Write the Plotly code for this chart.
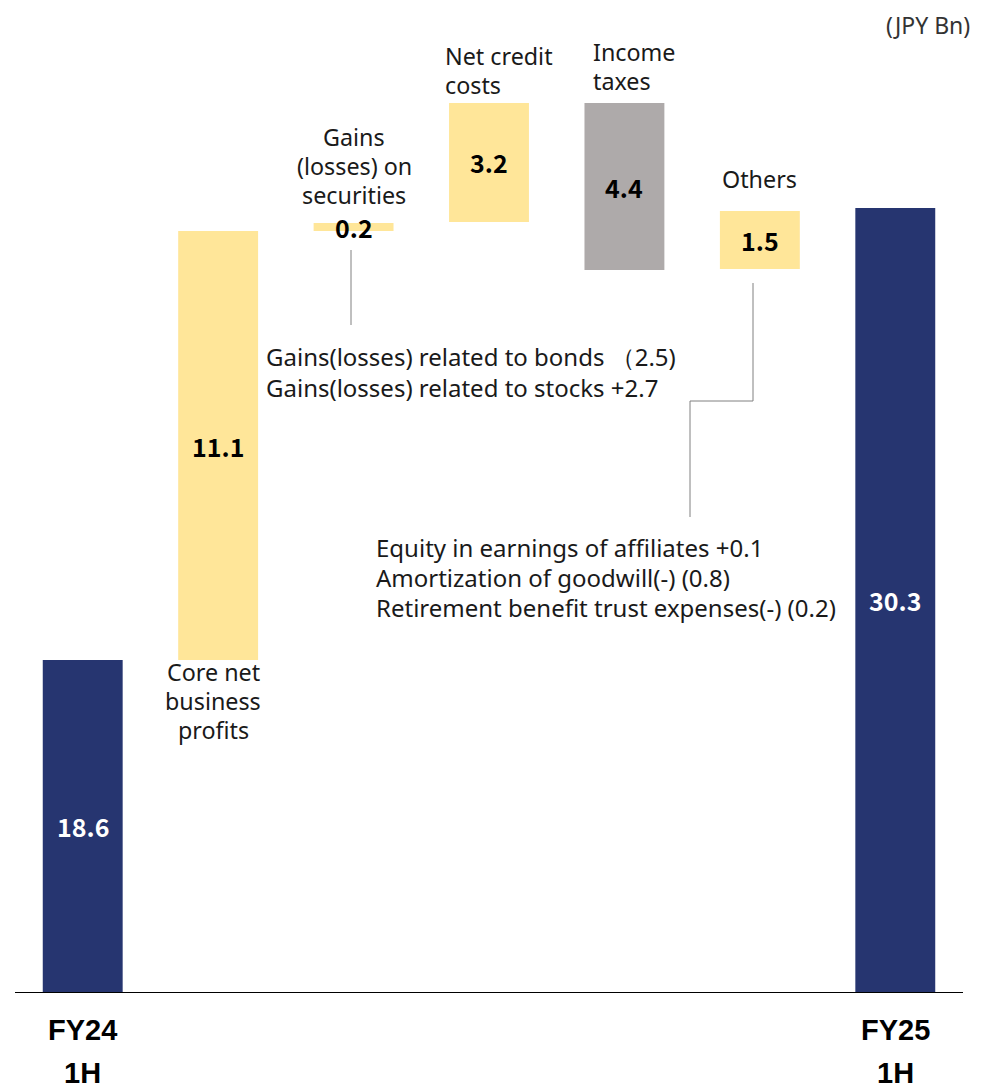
import plotly.graph_objects as go

# ---------------- data ----------------
categories = ["FY24 1H", "Core net business profits", "Gains (losses) on securities",
              "Net credit costs", "Income taxes", "Others", "FY25 1H"]
value_labels = ["18.6", "11.1", "0.2", "3.2", "4.4", "1.5", "30.3"]
# drawn bar extents (chart units, as drawn in the picture; not strictly to scale)
bar_bottom = [0.0, 12.83, 29.41, 29.76, 27.90, 27.94, 0.0]
bar_top = [12.83, 29.41, 29.72, 34.36, 34.36, 30.18, 30.3]
bar_kind = ["total", "up", "up", "up", "down", "up", "total"]

cat_name_lines = [["Core net", "business", "profits"],
                  ["Gains", "(losses) on", "securities"],
                  ["Net credit", "costs"],
                  ["Income", "taxes"],
                  ["Others"]]
bonds_note = ["Gains(losses) related to bonds （2.5)",
              "Gains(losses) related to stocks +2.7"]
others_note = ["Equity in earnings of affiliates +0.1",
               "Amortization of goodwill(-) (0.8)",
               "Retirement benefit trust expenses(-) (0.2)"]
x_labels = [("FY24", "1H"), ("FY25", "1H")]
unit_label = "(JPY Bn)"

# ---------------- style ----------------
NAVY = "#263570"
YELLOW = "#FFE699"
GRAY = "#AEAAAA"
TXT = "#1a1a1a"
FONT = "Noto Sans CJK JP"
LFONT = "Noto Sans"
colors = {"total": NAVY, "up": YELLOW, "down": GRAY}

OFF = 8  # page body margin
W, H = 982 - OFF, 1089 - OFF
ML, MR, MT, MB = 15 - OFF, 19, 0, 97
PW, PH = W - ML - MR, H - MT - MB
YMAX = PH / 25.875
XMIN, XMAX = -0.5, 6.5


def xpx(p):
    return XMIN + (p - OFF - ML) / PW * (XMAX - XMIN)


def ypx(p):
    return (MT + PH - (p - OFF)) / PH * YMAX


def xp(p):
    return (p - OFF - ML) / PW


def yp(p):
    return (MT + PH - (p - OFF)) / PH


xs = list(range(len(categories)))
fig = go.Figure()
fig.add_trace(go.Bar(
    x=xs,
    y=[t - b for t, b in zip(bar_top, bar_bottom)],
    base=bar_bottom,
    width=0.59,
    marker=dict(color=[colors[k] for k in bar_kind], line=dict(width=0)),
    hoverinfo="skip",
))

ann = []
# value labels
for i, lab in enumerate(value_labels):
    ann.append(dict(x=i, y=(bar_bottom[i] + bar_top[i]) / 2, text=f"<b>{lab}</b>",
                    showarrow=False, xanchor="center", yanchor="middle",
                    font=dict(family=FONT, size=25,
                              color="white" if bar_kind[i] == "total" else "#000")))


def text_lines(lines, x, y0, dy, xanchor, size):
    for k, t in enumerate(lines):
        ann.append(dict(x=xp(x), y=yp(y0 + dy * k), xref="paper", yref="paper", text=t,
                        showarrow=False, xanchor=xanchor, yanchor="middle",
                        font=dict(family=LFONT, size=size, color=TXT)))


# category names: (x px, first line y px, anchor)
name_pos = [(213, 672, "center"), (354, 137, "center"), (443, 56, "left"),
            (591, 52, "left"), (759, 179, "center")]
for lines, (px, py, xa) in zip(cat_name_lines, name_pos):
    text_lines(lines, px, py, 29, xa, 23.3)

# notes
text_lines(bonds_note, 264, 357, 30, "left", 24)
text_lines(others_note, 374, 547, 30, "left", 24)

# unit
ann.append(dict(x=xp(972), y=yp(25), xref="paper", yref="paper", text=unit_label,
                showarrow=False, xanchor="right", yanchor="middle",
                font=dict(family=LFONT, size=23, color="#333")))

# x category labels
for i, (a, b) in zip([0, 6], x_labels):
    for k, t in enumerate((a, b)):
        ann.append(dict(x=i, y=yp(1030 + 43 * k), xref="x", yref="paper",
                        text=f"<b>{t}</b>", showarrow=False,
                        xanchor="center", yanchor="middle",
                        font=dict(family="Liberation Sans", size=29, color="#000")))

# callout lines
LC = "#808080"
shapes = [
    dict(type="line", x0=xpx(351), x1=xpx(351), y0=ypx(250), y1=ypx(325)),
    dict(type="line", x0=xpx(753), x1=xpx(753), y0=ypx(283), y1=ypx(401)),
    dict(type="line", x0=xpx(690), x1=xpx(753), y0=ypx(401), y1=ypx(401)),
    dict(type="line", x0=xpx(690), x1=xpx(690), y0=ypx(401), y1=ypx(517)),
]
for s in shapes:
    s.update(xref="x", yref="y", line=dict(color=LC, width=1))

fig.update_layout(
    width=W, height=H,
    margin=dict(l=ML, r=MR, t=MT, b=MB),
    paper_bgcolor="white", plot_bgcolor="white",
    showlegend=False,
    annotations=ann, shapes=shapes,
    xaxis=dict(range=[XMIN, XMAX], showgrid=False, zeroline=False, showticklabels=False,
               ticks="", showline=True, linecolor="#000", linewidth=1, fixedrange=True),
    yaxis=dict(range=[0, YMAX], showgrid=False, zeroline=False, showticklabels=False,
               ticks="", showline=False, fixedrange=True),
)

fig.write_html("out.html")
